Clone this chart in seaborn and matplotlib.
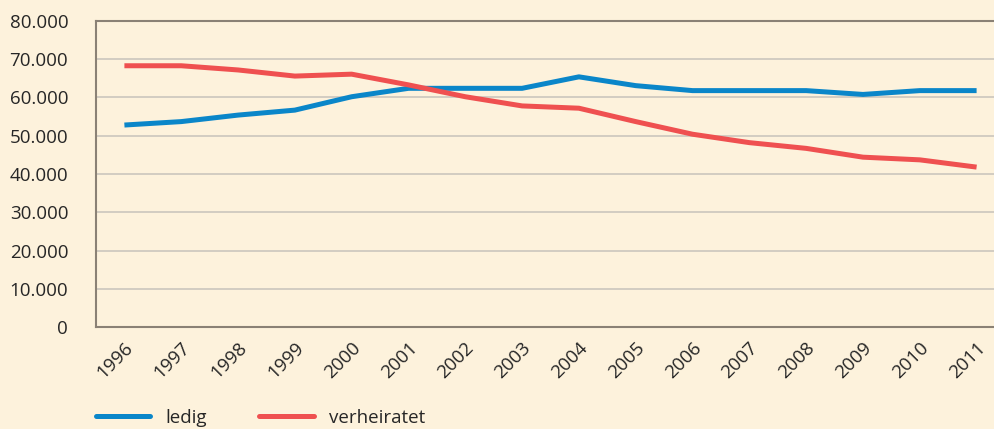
import matplotlib
matplotlib.use("Agg")
import matplotlib.pyplot as plt
import matplotlib.transforms as mtrans
import seaborn as sns
import pandas as pd
import numpy as np
from matplotlib.ticker import FuncFormatter, FixedLocator

years = list(range(1996, 2012))
ledig = [52800, 53700, 55400, 56700, 60200, 62400, 62400, 62400, 65400,
         63100, 61800, 61800, 61800, 60800, 61800, 61800]
verheiratet = [68300, 68300, 67200, 65600, 66100, 63300, 60200, 57800, 57200,
               53700, 50400, 48200, 46700, 44400, 43700, 41800]
series_names = ["ledig", "verheiratet"]
yticks = [0, 10000, 20000, 30000, 40000, 50000, 60000, 70000, 80000]

bg = "#fdf2dc"
blue = "#0a86c9"
red = "#ef5050"
txt = "#262626"
dark = "#8a8175"
grid = "#cfcac0"

df = pd.DataFrame({
    "Jahr": years * 2,
    "Wert": ledig + verheiratet,
    "Serie": [series_names[0]] * len(years) + [series_names[1]] * len(years),
})

sns.set_theme(style="white")
plt.rcParams["font.family"] = ["Open Sans", "DejaVu Sans"]

fig = plt.figure(figsize=(9.94, 4.29), dpi=100, facecolor=bg)
ax = fig.add_axes([96 / 994, 102 / 429, (1005 - 96) / 994, 306 / 429])
ax.set_facecolor(bg)

sns.lineplot(data=df, x="Jahr", y="Wert", hue="Serie",
             palette={series_names[0]: blue, series_names[1]: red},
             linewidth=3.6, ax=ax, legend=False, solid_joinstyle="round",
             solid_capstyle="butt")

ax.set_xlim(years[0] - 0.5, years[-1] + 0.5)
ax.set_ylim(0, 80000)
ax.set_yticks(yticks)
ax.yaxis.set_major_formatter(FuncFormatter(lambda v, p: f"{int(v):,}".replace(",", ".")))
ax.grid(axis="y", color=grid, linewidth=1.3)
ax.set_axisbelow(True)

ax.set_xticks(years)
ax.set_xticklabels([str(y) for y in years])
ax.xaxis.set_minor_locator(FixedLocator([y - 0.5 for y in years]))
ax.tick_params(axis="x", which="major", length=0, pad=13, labelsize=13.5, colors=txt)
ax.tick_params(axis="x", which="minor", length=6, width=1.2, color=dark, direction="out")
ax.tick_params(axis="y", length=6, width=1.3, color=grid, labelsize=13.5, labelcolor=txt, pad=14)
for lab in ax.get_yticklabels():
    lab.set_ha("right")
offset = mtrans.ScaledTranslation(6 / 100, 0, fig.dpi_scale_trans)
for lab in ax.get_xticklabels():
    lab.set_rotation(45)
    lab.set_ha("right")
    lab.set_va("center")
    lab.set_rotation_mode("anchor")
    lab.set_transform(lab.get_transform() + offset)

for s in ["left", "bottom", "top"]:
    ax.spines[s].set_visible(True)
    ax.spines[s].set_color(dark)
    ax.spines[s].set_linewidth(1.5)
ax.spines["right"].set_visible(False)
ax.set_xlabel("")
ax.set_ylabel("")

handles = [plt.Line2D([], [], color=blue, linewidth=3.6),
           plt.Line2D([], [], color=red, linewidth=3.6)]
fig.legend(handles, series_names, loc="center left",
           bbox_to_anchor=(96 / 994, 11 / 429), ncol=2, frameon=False,
           handlelength=2.9, handletextpad=0.8, columnspacing=2.8,
           borderpad=0, borderaxespad=0, fontsize=13.5,
           labelcolor=txt)

fig.savefig("out.png", dpi=100, facecolor=bg)
